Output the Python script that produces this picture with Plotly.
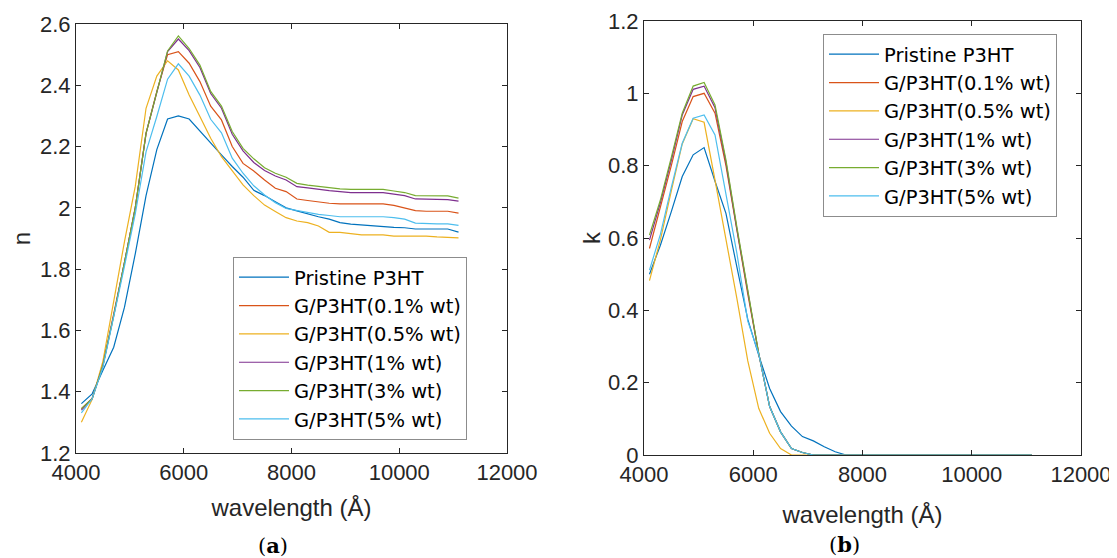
import plotly.graph_objects as go

wavelength = [4100, 4300, 4500, 4700, 4900, 5100, 5300, 5500, 5700, 5900,
              6100, 6300, 6500, 6700, 6900, 7100, 7300, 7500, 7700, 7900,
              8100, 8300, 8500, 8700, 8900, 9100, 9300, 9500, 9700, 9900,
              10100, 10300, 10500, 10700, 10900, 11100]

series_names = ["Pristine P3HT", "G/P3HT(0.1% wt)", "G/P3HT(0.5% wt)",
                "G/P3HT(1% wt)", "G/P3HT(3% wt)", "G/P3HT(5% wt)"]
colors = ["#0072BD", "#D95319", "#EDB120", "#7E2F8E", "#77AC30", "#4DBEEE"]

n_pristine = [1.361, 1.393, 1.47, 1.545, 1.676, 1.85, 2.04, 2.19, 2.29, 2.30,
              2.29, 2.25, 2.21, 2.173, 2.135, 2.10, 2.057, 2.04, 2.02, 2.0,
              1.99, 1.98, 1.971, 1.963, 1.952, 1.947, 1.944, 1.94, 1.938, 1.936,
              1.935, 1.931, 1.931, 1.931, 1.931, 1.921]
n_01 = [1.345, 1.378, 1.486, 1.65, 1.822, 2.0, 2.243, 2.38, 2.50, 2.51,
        2.472, 2.412, 2.332, 2.287, 2.2, 2.145, 2.12, 2.091, 2.064, 2.053,
        2.029, 2.024, 2.019, 2.015, 2.013, 2.013, 2.013, 2.013, 2.013, 2.008,
        2.0, 1.991, 1.989, 1.989, 1.989, 1.983]
n_05 = [1.30, 1.375, 1.50, 1.70, 1.89, 2.07, 2.325, 2.43, 2.48, 2.45,
        2.368, 2.298, 2.227, 2.167, 2.12, 2.075, 2.04, 2.009, 1.988, 1.968,
        1.957, 1.952, 1.941, 1.92, 1.92, 1.915, 1.912, 1.912, 1.912, 1.908,
        1.908, 1.908, 1.908, 1.905, 1.904, 1.902]
n_1 = [1.34, 1.377, 1.486, 1.648, 1.822, 2.0, 2.243, 2.38, 2.51, 2.551,
       2.513, 2.458, 2.373, 2.325, 2.24, 2.186, 2.148, 2.122, 2.104, 2.091,
       2.069, 2.065, 2.06, 2.056, 2.053, 2.05, 2.05, 2.05, 2.05, 2.045,
       2.04, 2.029, 2.028, 2.028, 2.027, 2.022]
n_3 = [1.345, 1.377, 1.486, 1.648, 1.822, 2.0, 2.243, 2.38, 2.512, 2.561,
       2.52, 2.466, 2.38, 2.332, 2.249, 2.194, 2.16, 2.131, 2.113, 2.10,
       2.08, 2.074, 2.07, 2.065, 2.062, 2.06, 2.06, 2.06, 2.06, 2.055,
       2.05, 2.04, 2.039, 2.039, 2.039, 2.032]
n_5 = [1.331, 1.377, 1.48, 1.64, 1.81, 1.98, 2.183, 2.298, 2.42, 2.47,
       2.43, 2.368, 2.289, 2.245, 2.162, 2.113, 2.072, 2.042, 2.017, 1.998,
       1.991, 1.984, 1.979, 1.975, 1.971, 1.971, 1.971, 1.971, 1.971, 1.968,
       1.963, 1.95, 1.948, 1.948, 1.948, 1.943]

k_pristine = [0.50, 0.58, 0.673, 0.77, 0.83, 0.85, 0.757, 0.668, 0.52, 0.375,
              0.276, 0.184, 0.12, 0.08, 0.051, 0.039, 0.023, 0.009, 0, 0,
              0, 0, 0, 0, 0, 0, 0, 0, 0, 0, 0, 0, 0, 0, 0, 0]
k_01 = [0.571, 0.682, 0.80, 0.922, 0.991, 1.0, 0.945, 0.80, 0.62, 0.445,
        0.28, 0.134, 0.064, 0.018, 0.007, 0, 0, 0, 0, 0,
        0, 0, 0, 0, 0, 0, 0, 0, 0, 0, 0, 0, 0, 0, 0, 0]
k_05 = [0.482, 0.595, 0.73, 0.86, 0.93, 0.92, 0.76, 0.60, 0.433, 0.26,
        0.129, 0.06, 0.018, 0, 0, 0, 0, 0, 0, 0,
        0, 0, 0, 0, 0, 0, 0, 0, 0, 0, 0, 0, 0, 0, 0, 0]
k_1 = [0.594, 0.698, 0.815, 0.94, 1.011, 1.02, 0.96, 0.81, 0.625, 0.45,
       0.28, 0.134, 0.064, 0.018, 0.007, 0, 0, 0, 0, 0,
       0, 0, 0, 0, 0, 0, 0, 0, 0, 0, 0, 0, 0, 0, 0, 0]
k_3 = [0.608, 0.705, 0.823, 0.945, 1.02, 1.03, 0.968, 0.816, 0.631, 0.456,
       0.281, 0.134, 0.064, 0.018, 0.007, 0, 0, 0, 0, 0,
       0, 0, 0, 0, 0, 0, 0, 0, 0, 0, 0, 0, 0, 0, 0, 0]
k_5 = [0.511, 0.61, 0.74, 0.862, 0.931, 0.94, 0.885, 0.723, 0.558, 0.37,
       0.28, 0.134, 0.064, 0.018, 0.007, 0, 0, 0, 0, 0,
       0, 0, 0, 0, 0, 0, 0, 0, 0, 0, 0, 0, 0, 0, 0, 0]

x_ticks = [4000, 6000, 8000, 10000, 12000]
x_ticktext = ["4000", "6000", "8000", "10000", "12000"]
n_ticks = [1.2, 1.4, 1.6, 1.8, 2.0, 2.2, 2.4, 2.6]
n_ticktext = ["1.2", "1.4", "1.6", "1.8", "2", "2.2", "2.4", "2.6"]
k_ticks = [0, 0.2, 0.4, 0.6, 0.8, 1.0, 1.2]
k_ticktext = ["0", "0.2", "0.4", "0.6", "0.8", "1", "1.2"]

n_series = [n_pristine, n_01, n_05, n_1, n_3, n_5]
k_series = [k_pristine, k_01, k_05, k_1, k_3, k_5]

# page body has an 8px margin; lay the figure out in page pixels minus that offset
OFF = 8
W, H = 1117 - OFF, 558 - OFF


def fx(px):
    return (px - OFF) / W


def fy(py):
    return 1 - (py - OFF) / H


FONT = "Liberation Sans, Arial, sans-serif"
LEG_FONT = "DejaVu Sans, sans-serif"
AX = "#262626"

fig = go.Figure()
for name, c, ys in zip(series_names, colors, n_series):
    fig.add_trace(go.Scatter(x=wavelength, y=ys, mode="lines", name=name,
                             line=dict(color=c, width=1.2),
                             xaxis="x", yaxis="y", legend="legend"))
for name, c, ys in zip(series_names, colors, k_series):
    fig.add_trace(go.Scatter(x=wavelength, y=ys, mode="lines", name=name,
                             line=dict(color=c, width=1.2),
                             xaxis="x2", yaxis="y2", legend="legend2"))

axis_common = dict(showline=True, linecolor=AX, linewidth=1, mirror="ticks",
                   ticks="inside", ticklen=5, tickcolor=AX, showgrid=False,
                   zeroline=False, automargin=False,
                   tickfont=dict(family=FONT, size=22, color=AX))

legend_common = dict(bgcolor="white", bordercolor="#8c8c8c", borderwidth=1,
                     font=dict(family=LEG_FONT, size=19.5, color="black"),
                     xanchor="left", yanchor="top", itemwidth=50,
                     tracegroupgap=0)

title_font = dict(family=FONT, size=24, color=AX)
label_font = dict(family="DejaVu Serif, serif", size=21, color="black")

fig.update_layout(
    width=W, height=H, autosize=False,
    margin=dict(l=0, r=0, t=0, b=0, pad=0, autoexpand=False),
    paper_bgcolor="white", plot_bgcolor="white",
    showlegend=True,
    xaxis=dict(domain=[fx(76), fx(507)], range=[4000, 12000],
               tickvals=x_ticks, ticktext=x_ticktext, anchor="y",
               title=dict(text="wavelength (Å)", standoff=14, font=title_font),
               **axis_common),
    yaxis=dict(domain=[fy(453), fy(24)], range=[1.2, 2.6],
               tickvals=n_ticks, ticktext=n_ticktext, anchor="x",
               title=dict(text="n", standoff=8, font=title_font),
               **axis_common),
    xaxis2=dict(domain=[fx(644), fx(1081)], range=[4000, 12000],
                tickvals=x_ticks, ticktext=x_ticktext, anchor="y2",
                title=dict(text="wavelength (Å)", standoff=19, font=title_font),
                **axis_common),
    yaxis2=dict(domain=[fy(455), fy(21)], range=[0, 1.2],
                tickvals=k_ticks, ticktext=k_ticktext, anchor="x2",
                title=dict(text="k", standoff=0, font=title_font),
                **axis_common),
    legend=dict(x=fx(233), y=fy(257), **legend_common),
    legend2=dict(x=fx(823), y=fy(34), **legend_common),
    annotations=[
        dict(text="(<b>a</b>)", x=fx(273), y=fy(545), xref="paper", yref="paper",
             xanchor="center", yanchor="middle", showarrow=False, font=label_font),
        dict(text="(<b>b</b>)", x=fx(844), y=fy(544), xref="paper", yref="paper",
             xanchor="center", yanchor="middle", showarrow=False, font=label_font),
    ],
)

fig.write_html("out.html")
